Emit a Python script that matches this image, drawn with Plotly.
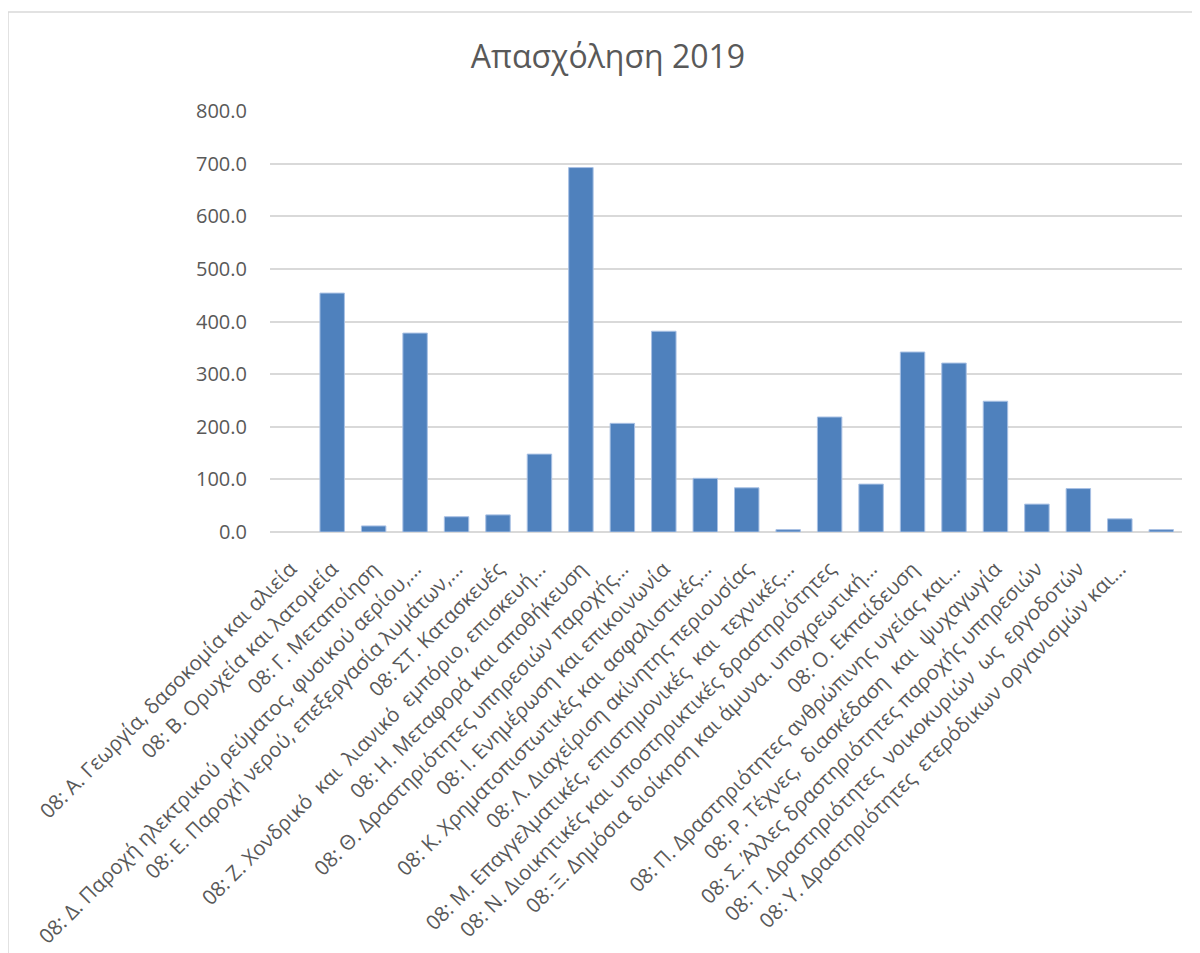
import plotly.graph_objects as go

categories = [
    "08: Α. Γεωργία, δασοκομία και αλιεία",
    "08: Β. Ορυχεία και λατομεία",
    "08: Γ. Μεταποίηση",
    "08: Δ. Παροχή ηλεκτρικού ρεύματος, φυσικού αερίου,...",
    "08: Ε. Παροχή νερού, επεξεργασία λυμάτων,...",
    "08: ΣΤ. Κατασκευές",
    "08: Ζ. Χονδρικό  και  λιανικό  εμπόριο, επισκευή...",
    "08: Η. Μεταφορά και αποθήκευση",
    "08: Θ. Δραστηριότητες υπηρεσιών παροχής...",
    "08: Ι. Ενημέρωση και επικοινωνία",
    "08: Κ. Χρηματοπιστωτικές και ασφαλιστικές...",
    "08: Λ. Διαχείριση ακίνητης περιουσίας",
    "08: Μ. Επαγγελματικές, επιστημονικές  και  τεχνικές...",
    "08: Ν. Διοικητικές και υποστηρικτικές δραστηριότητες",
    "08: Ξ. Δημόσια διοίκηση και άμυνα. υποχρεωτική...",
    "08: Ο. Εκπαίδευση",
    "08: Π. Δραστηριότητες ανθρώπινης υγείας και...",
    "08: Ρ. Τέχνες,  διασκέδαση  και  ψυχαγωγία",
    "08: Σ. Άλλες δραστηριότητες παροχής υπηρεσιών",
    "08: Τ. Δραστηριότητες  νοικοκυριών  ως  εργοδοτών",
    "08: Υ. Δραστηριότητες  ετερόδικων οργανισμών και...",
    " ",
]

values = [None, 454.0, 11.5, 378.0, 29.0, 32.5, 148.0, 692.5, 206.5, 381.5, 102.0,
          84.0, 4.5, 218.5, 91.0, 342.0, 321.0, 248.5, 53.0, 82.5, 25.0, 4.5]

y_ticks = [0, 100, 200, 300, 400, 500, 600, 700, 800]
y_ticktext = ["0.0", "100.0", "200.0", "300.0", "400.0", "500.0", "600.0", "700.0", "800.0"]

title_text = "Απασχόληση 2019"

W, H = 1200, 953
OFF = 8  # page body margin
L, R, T, B = 270 - OFF, 1200 - 1182 + OFF, 111 - OFF, 953 - 532 + OFF
pw, ph = W - L - R, H - T - B

fig = go.Figure()
fig.add_trace(go.Bar(
    x=categories, y=values,
    marker=dict(color="#4F81BD", line=dict(color="#A9C1E4", width=1)),
    hoverinfo="x+y",
))

fig.update_layout(
    width=W, height=H,
    margin=dict(l=L, r=R, t=T, b=B, pad=0),
    paper_bgcolor="white", plot_bgcolor="white",
    bargap=0.41,
    showlegend=False,
    font=dict(family="Open Sans", color="#595959"),
    title=dict(text=title_text, x=(608 - OFF) / W, xanchor="center", y=1 - (57 - OFF) / H,
               yanchor="middle", yref="container", xref="container",
               font=dict(family="Open Sans", size=32, color="#595959")),
    xaxis=dict(type="category", tickangle=-45, showgrid=False, showline=False,
               ticks="", tickfont=dict(size=20.5, color="#595959"), automargin=False,
               ticklabelstandoff=20,
               categoryorder="array", categoryarray=categories),
    yaxis=dict(range=[0, 800], tickvals=y_ticks, ticktext=y_ticktext, showgrid=True,
               gridcolor="#D9D9D9", gridwidth=1.5, zeroline=True, zerolinecolor="#D9D9D9",
               zerolinewidth=1.5, showline=False, ticks="", ticklabelstandoff=22,
               tickfont=dict(size=20, color="#595959"), automargin=False),
    shapes=[dict(type="rect", xref="paper", yref="paper",
                 x0=(8 - OFF - L) / pw, x1=(1215 - L) / pw,
                 y0=(H - B - 970) / ph, y1=(H - B - (12 - OFF)) / ph,
                 line=dict(color="#D9D9D9", width=1.5), fillcolor="rgba(0,0,0,0)", layer="below")],
)

fig.write_html("out.html")
